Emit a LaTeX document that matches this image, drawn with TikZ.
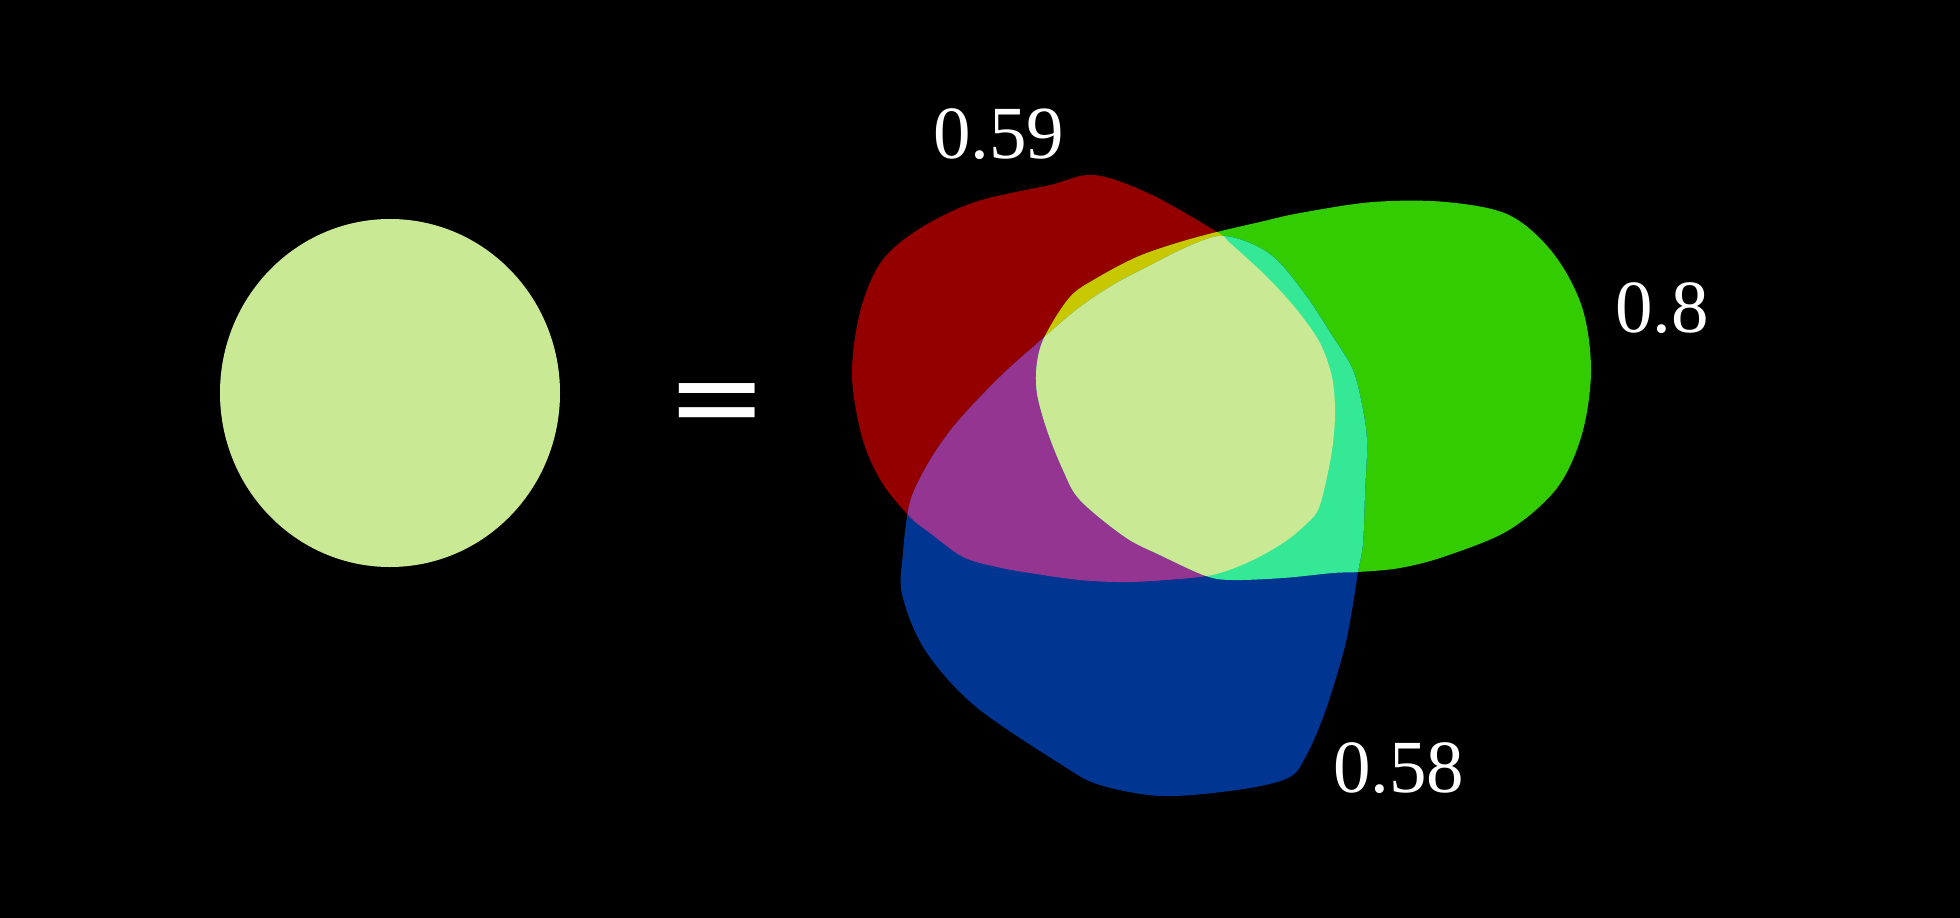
\documentclass[tikz,border=0pt]{standalone}
\usepackage{fontspec}
\setmainfont{Liberation Serif}
\newfontfamily\eqfont{DejaVu Sans}
\definecolor{cR}{RGB}{148,0,0}
\definecolor{cG}{RGB}{51,204,0}
\definecolor{cB}{RGB}{0,53,146}
\definecolor{cRG}{RGB}{200,200,0}
\definecolor{cRB}{RGB}{148,53,146}
\definecolor{cGB}{RGB}{53,232,150}
\definecolor{cRGB}{RGB}{202,233,148}
\tikzset{
  lbl/.style={text=white, font=\fontsize{75}{84}\selectfont, anchor=base west, inner sep=0pt, outer sep=0pt},
  eqsign/.style={text=white, font=\eqfont\fontsize{121}{130}\selectfont, inner sep=0pt}
}
\def\redpath{plot[smooth cycle, tension=0.55] coordinates {
 (1094,175) (1150,194) (1217,232) (1230,243) (1267,277) (1297,310) (1320,343)
 (1332,377) (1335,410) (1333,443) (1327,477) (1318,510) (1303,527) (1283,543)
 (1253,560) (1220,573) (1190,578) (1130,582) (1080,580) (1030,573) (997,567)
 (963,557) (930,533) (909,516) (881,481) (862,437) (852,375) (860,312)
 (881,262) (919,229) (975,202) (1050,185)}}
\def\greenpath{plot[smooth cycle, tension=0.55] coordinates {
 (1217,232) (1260,222) (1300,213) (1373,202) (1446,202) (1509,215) (1553,253)
 (1582,307) (1591,370) (1582,434) (1557,488) (1509,530) (1446,556) (1400,568)
 (1358,572) (1333,573) (1283,578) (1233,580) (1206,576) (1160,555) (1125,537)
 (1080,500) (1063,470) (1047,430) (1037,393) (1037,363) (1045,336) (1070,297)
 (1097,278) (1137,257) (1177,243)}}
\def\bluepath{plot[smooth cycle, tension=0.55] coordinates {
 (1220,236) (1250,243) (1277,260) (1307,297) (1333,337) (1353,370) (1363,410)
 (1367,443) (1365,493) (1363,543) (1358,572) (1352,610) (1344,650) (1325,712)
 (1306,756) (1288,778) (1237,790) (1162,796) (1100,785) (1062,765) (975,706)
 (925,650) (902,594) (903,553) (907,517) (913,493) (930,460) (953,427) (980,397)
 (1007,370) (1033,347) (1049,333) (1080,307) (1113,285) (1147,267) (1187,247)}}
\begin{document}
\begin{tikzpicture}[x=1pt,y=-1pt]
\fill[black] (0,0) rectangle (1960,918);
\useasboundingbox (0,0) rectangle (1960,918);
% left sum shape
\fill[cRGB] (390,393) ellipse [x radius=170, y radius=174];
% equals sign
\node[eqsign] (eq) at (717,411) {=};
% three shapes
\fill[cR] \redpath;
\fill[cG] \greenpath;
\fill[cB] \bluepath;
\begin{scope}
  \clip \redpath;
  \fill[cRG] \greenpath;
  \fill[cRB] \bluepath;
\end{scope}
\begin{scope}
  \clip \greenpath;
  \fill[cGB] \bluepath;
\end{scope}
\begin{scope}
  \clip \redpath;
  \clip \greenpath;
  \fill[cRGB] \bluepath;
\end{scope}
% labels
\node[lbl] (wr) at (933,158) {0.59};
\node[lbl] (wg) at (1615,332) {0.8};
\node[lbl] (wb) at (1333,792) {0.58};
\end{tikzpicture}
\end{document}
